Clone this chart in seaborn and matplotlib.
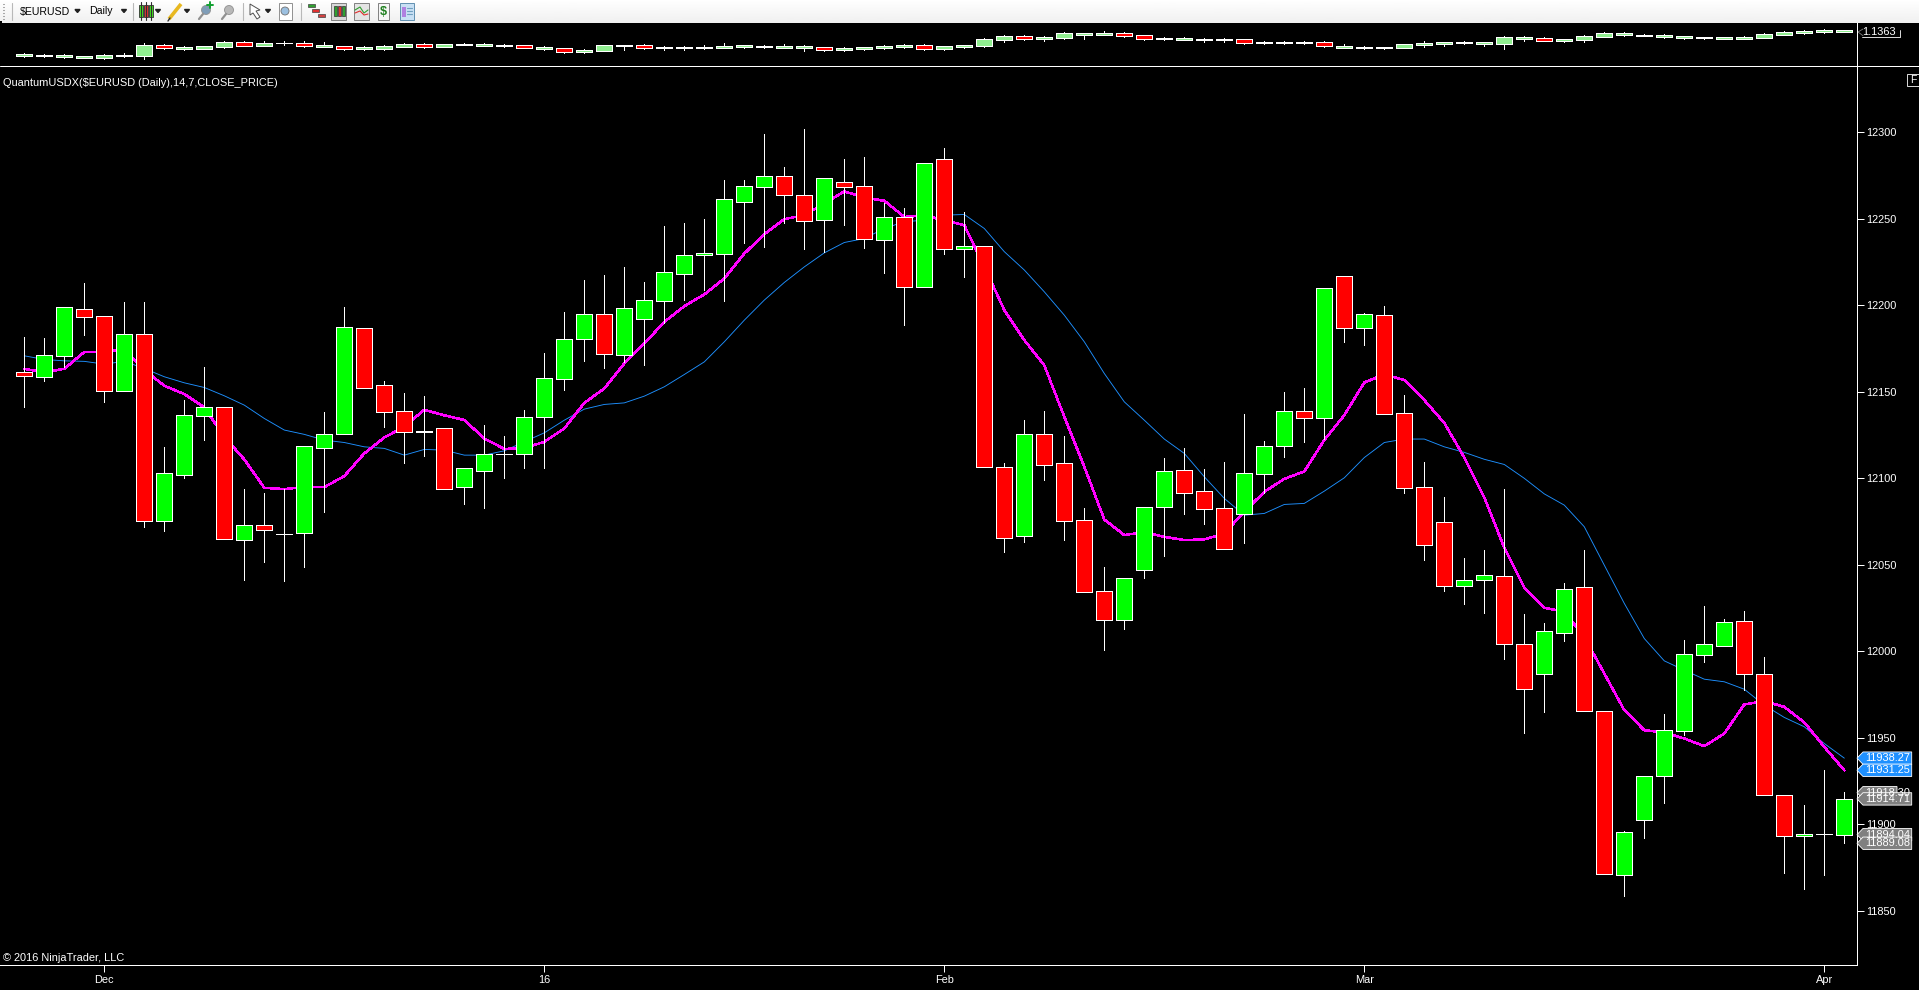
import numpy as np
import pandas as pd
import matplotlib
matplotlib.use("Agg")
import matplotlib.pyplot as plt
from matplotlib.lines import Line2D
from matplotlib.patches import Rectangle, Circle, Polygon
import seaborn as sns

# main panel, daily candles
opens = [12161.2, 12158.7, 12170.8, 12197.6, 12193.6, 12150.6, 12183.2, 12075.5, 12102.0, 12136.2,
         12141.0, 12064.5, 12072.8, 12068.1, 12068.5, 12117.7, 12125.8, 12186.6, 12153.7, 12138.7,
         12127.6, 12128.8, 12095.1, 12104.4, 12113.8, 12114.0, 12135.5, 12157.5, 12180.6, 12194.7,
         12171.4, 12192.2, 12202.6, 12218.2, 12228.8, 12229.8, 12259.8, 12268.5, 12274.5, 12263.5,
         12249.4, 12271.0, 12268.7, 12237.8, 12250.8, 12210.7, 12284.3, 12232.7, 12234.0, 12106.3,
         12066.8, 12125.4, 12108.6, 12075.7, 12034.6, 12018.4, 12047.1, 12083.6, 12104.6, 12092.4,
         12082.6, 12079.5, 12102.6, 12118.8, 12138.7, 12135.0, 12216.7, 12187.0, 12194.2, 12137.5,
         12094.7, 12074.5, 12037.5, 12041.0, 12043.7, 12004.0, 11987.0, 12010.7, 12036.9, 11965.8,
         11870.8, 11902.6, 11928.0, 11954.1, 11998.0, 12003.2, 12017.8, 11987.0, 11917.1, 11893.4,
         11894.7, 11894.1]
highs = [12181.6, 12181.0, 12198.8, 12212.8, 12193.6, 12201.9, 12201.9, 12118.0, 12145.2, 12164.3,
         12141.0, 12093.8, 12091.5, 12093.8, 12118.4, 12138.3, 12199.0, 12186.6, 12156.2, 12149.3,
         12147.5, 12128.8, 12105.7, 12130.7, 12124.4, 12139.4, 12172.3, 12196.0, 12214.5, 12217.4,
         12222.0, 12213.4, 12245.7, 12247.5, 12249.8, 12272.3, 12272.3, 12298.9, 12279.9, 12301.8,
         12273.3, 12284.5, 12285.6, 12258.9, 12256.2, 12282.0, 12290.8, 12254.0, 12234.0, 12108.6,
         12133.7, 12138.9, 12124.4, 12082.8, 12048.7, 12042.1, 12083.7, 12111.7, 12117.5, 12105.3,
         12109.4, 12137.1, 12121.5, 12149.8, 12152.2, 12209.8, 12216.7, 12195.5, 12199.6, 12148.1,
         12109.4, 12089.0, 12053.9, 12058.5, 12094.0, 12021.5, 12016.3, 12039.4, 12058.5, 11965.8,
         11896.0, 11928.2, 11963.7, 12006.5, 12026.1, 12018.6, 12023.2, 11996.6, 11917.1, 11911.1,
         11931.3, 11918.6]
lows = [12141.4, 12156.4, 12164.1, 12182.8, 12144.0, 12150.6, 12072.0, 12069.5, 12100.1, 12122.1,
        12065.0, 12041.2, 12051.6, 12040.8, 12048.7, 12080.5, 12125.8, 12152.3, 12129.6, 12108.8,
        12112.9, 12093.6, 12085.1, 12083.0, 12100.0, 12106.0, 12105.9, 12150.9, 12167.7, 12163.7,
        12167.1, 12165.4, 12189.5, 12203.0, 12208.8, 12202.4, 12235.9, 12233.6, 12247.5, 12232.5,
        12230.7, 12246.3, 12233.0, 12218.6, 12188.5, 12210.7, 12229.6, 12216.5, 12106.7, 12057.4,
        12063.1, 12099.0, 12064.3, 12034.4, 12000.9, 12013.0, 12042.5, 12055.0, 12079.3, 12073.5,
        12059.3, 12062.6, 12091.3, 12112.3, 12120.9, 12122.7, 12178.7, 12177.0, 12136.9, 12091.5,
        12052.7, 12035.0, 12027.3, 12022.1, 11995.5, 11952.7, 11964.9, 12005.9, 11965.6, 11871.4,
        11858.5, 11892.0, 11912.3, 11951.8, 11993.8, 12003.2, 11977.6, 11917.1, 11872.0, 11862.7,
        11870.8, 11889.3]
closes = [12159.3, 12171.0, 12198.8, 12193.4, 12150.6, 12183.2, 12075.5, 12102.8, 12136.4, 12141.0,
          12065.0, 12072.8, 12070.3, 12068.1, 12118.4, 12125.9, 12187.2, 12152.3, 12138.5, 12126.9,
          12127.0, 12093.6, 12105.7, 12113.8, 12113.8, 12135.2, 12157.7, 12180.8, 12194.7, 12172.0,
          12198.7, 12202.8, 12219.0, 12228.8, 12230.0, 12261.7, 12268.7, 12274.5, 12263.9, 12248.8,
          12273.3, 12268.5, 12238.6, 12250.8, 12210.7, 12282.0, 12232.6, 12234.2, 12106.7, 12065.6,
          12125.4, 12107.8, 12075.5, 12034.4, 12017.9, 12042.1, 12083.7, 12104.0, 12091.7, 12082.4,
          12059.3, 12102.8, 12118.4, 12138.7, 12135.0, 12209.8, 12187.0, 12194.7, 12136.9, 12094.5,
          12061.2, 12037.5, 12041.0, 12043.9, 12004.0, 11978.0, 12011.5, 12035.8, 11965.6, 11871.4,
          11895.3, 11928.2, 11954.3, 11998.2, 12004.0, 12016.7, 11987.0, 11917.1, 11893.4, 11894.7,
          11894.7, 11914.9]

ma_fast = [12163.3, 12161.2, 12163.3, 12173.0, 12173.0, 12174.5, 12162.6, 12153.5, 12148.7, 12141.0,
           12124.0, 12110.9, 12094.5, 12093.8, 12094.9, 12094.9, 12101.3, 12114.4, 12123.6, 12129.8,
           12139.6, 12136.4, 12133.7, 12123.0, 12117.0, 12117.4, 12121.1, 12128.8, 12143.6, 12151.9,
           12166.4, 12177.9, 12190.4, 12199.5, 12206.3, 12215.5, 12229.9, 12241.1, 12249.8, 12252.1,
           12258.8, 12265.8, 12262.3, 12260.4, 12251.1, 12251.9, 12249.2, 12246.3, 12222.3, 12197.2,
           12179.9, 12165.3, 12135.6, 12106.7, 12076.2, 12067.2, 12068.9, 12066.2, 12064.3, 12064.7,
           12068.1, 12080.7, 12092.2, 12099.7, 12104.0, 12122.1, 12136.5, 12155.4, 12160.0, 12156.8,
           12145.2, 12132.0, 12112.0, 12089.0, 12059.8, 12036.9, 12025.2, 12022.9, 12008.4, 11987.2,
           11966.0, 11954.4, 11953.1, 11949.6, 11945.2, 11952.5, 11969.3, 11971.2, 11967.9, 11958.9,
           11944.8, 11931.25]
ma_slow = [12170.8, 12168.7, 12167.9, 12167.6, 12166.0, 12167.6, 12163.5, 12158.7, 12155.2, 12152.5,
           12147.7, 12142.3, 12134.6, 12127.9, 12125.4, 12122.1, 12120.7, 12118.2, 12117.3, 12113.4,
           12116.7, 12116.3, 12113.4, 12113.4, 12115.9, 12121.1, 12126.3, 12133.6, 12140.0, 12142.7,
           12143.6, 12147.5, 12152.9, 12160.0, 12167.3, 12178.9, 12191.4, 12203.0, 12213.2, 12222.2,
           12230.3, 12236.3, 12238.6, 12244.4, 12248.3, 12249.2, 12252.1, 12252.5, 12244.4, 12231.0,
           12220.4, 12207.8, 12194.3, 12178.9, 12160.6, 12144.2, 12133.6, 12122.7, 12114.4, 12100.9,
           12088.4, 12078.7, 12079.7, 12084.9, 12085.5, 12092.6, 12100.3, 12112.0, 12120.7, 12122.7,
           12122.7, 12118.2, 12115.0, 12111.0, 12108.0, 12100.0, 12091.0, 12084.5, 12072.0, 12049.8,
           12027.7, 12007.4, 11994.5, 11989.1, 11983.9, 11982.4, 11978.1, 11968.9, 11961.8, 11956.4,
           11946.7, 11938.27]

price_ticks = list(range(11850, 12301, 50))
date_ticks = [4, 26, 46, 67, 90]
date_labels = ["Dec", "16", "Feb", "Mar", "Apr"]

# last value tags, back to front
blue_tags = [11938.27, 11931.25]
grey_tags = [11918.30, 11914.71, 11894.04, 11889.08]

# upper overview panel, no scale shown so these are heights in the panel
top_high = [37, 33, 34, 27, 34, 35, 66, 64, 58, 58, 73, 71, 71, 73, 71, 68, 58, 56, 60, 67,
            65, 64, 66, 67, 63, 60, 58, 52, 48, 60, 60, 63, 57, 57, 60, 66, 60, 60, 63, 60,
            54, 54, 54, 60, 63, 63, 57, 60, 81, 90, 90, 87, 99, 96, 102, 99, 90, 84, 84, 81,
            81, 78, 72, 72, 72, 72, 63, 57, 54, 63, 72, 69, 72, 69, 87, 87, 84, 78, 90, 99,
            99, 93, 93, 87, 84, 84, 87, 96, 102, 105, 108, 105]
top_body_hi = [34, 30, 30, 27, 30, 30, 60, 60, 54, 57, 69, 69, 67, 67, 66, 60, 57, 54, 57, 64,
               63, 63, 63, 64, 60, 60, 54, 51, 45, 60, 60, 60, 54, 54, 54, 57, 60, 57, 57, 57,
               54, 51, 54, 57, 60, 60, 57, 60, 78, 87, 87, 84, 96, 96, 96, 96, 90, 81, 81, 78,
               78, 78, 69, 69, 69, 69, 57, 54, 54, 63, 66, 69, 69, 69, 84, 84, 81, 78, 87, 96,
               96, 90, 90, 87, 84, 84, 84, 93, 99, 102, 105, 105]
top_body_lo = [28, 28, 25, 22, 22, 27, 28, 52, 48, 49, 55, 58, 58, 65, 58, 55, 49, 48, 49, 55,
               55, 55, 61, 58, 58, 51, 48, 40, 40, 43, 58, 51, 51, 51, 51, 51, 54, 54, 51, 51,
               45, 45, 48, 51, 54, 48, 48, 54, 57, 75, 78, 78, 81, 90, 90, 87, 78, 78, 75, 75,
               75, 66, 66, 66, 66, 57, 51, 51, 51, 51, 60, 63, 66, 63, 63, 78, 72, 72, 75, 84,
               90, 87, 84, 81, 81, 78, 78, 81, 90, 96, 99, 99]
top_low = [23, 25, 22, 22, 19, 23, 19, 48, 45, 49, 52, 56, 56, 59, 55, 54, 46, 46, 46, 54,
           51, 54, 60, 56, 55, 51, 44, 37, 37, 42, 46, 48, 45, 45, 48, 51, 51, 51, 51, 42,
           42, 42, 45, 48, 51, 45, 45, 51, 54, 69, 75, 72, 78, 78, 90, 84, 75, 75, 75, 69,
           69, 63, 63, 63, 63, 54, 51, 48, 48, 51, 54, 57, 63, 57, 48, 72, 72, 69, 69, 84,
           87, 87, 81, 78, 78, 78, 78, 81, 90, 93, 96, 99]
top_red = [7, 11, 14, 16, 20, 25, 27, 31, 40, 45, 50, 55, 56, 61, 65, 76]
top_label = "1.1363"
top_label_level = 99


W, H = 1919, 990
PANEL_RIGHT = 1857
SEP_Y = 65.5
BOTTOM_Y = 964.5
TOOL_H = 23
WHITE = "#FFFFFF"
FONT = 7.95

sns.set_theme(style="dark", rc={"axes.facecolor": "black", "figure.facecolor": "black",
                                "axes.grid": False, "text.color": WHITE,
                                "xtick.color": WHITE, "ytick.color": WHITE,
                                "xtick.bottom": True, "ytick.right": True})
plt.rcParams["font.family"] = ["Liberation Sans", "DejaVu Sans"]

fig = plt.figure(figsize=(W / 100, H / 100), dpi=100, facecolor="black")


def box(left, top, right, bottom):
    return [left / W, 1 - bottom / H, (right - left) / W, (bottom - top) / H]


ax = fig.add_axes(box(0, SEP_Y, PANEL_RIGHT, BOTTOM_Y))
ax_top = fig.add_axes(box(0, TOOL_H, PANEL_RIGHT, SEP_Y))
ax_tool = fig.add_axes(box(0, 0, W, TOOL_H))
ax_over = fig.add_axes([0, 0, 1, 1])
ax_over.set_axis_off()
ax_over.patch.set_alpha(0)
ax_over.set_xlim(0, W)
ax_over.set_ylim(H, 0)

bars = np.arange(len(closes))
o = np.array(opens)
c = np.array(closes)
df = pd.DataFrame({"bar": bars, "ma_fast": ma_fast, "ma_slow": ma_slow})

sns.lineplot(data=df, x="bar", y="ma_slow", color="#1E90FF", linewidth=0.65, ax=ax, zorder=2)
sns.lineplot(data=df, x="bar", y="ma_fast", color="#FF00FF", linewidth=1.1, ax=ax, zorder=2.5,
             antialiased=False)

ax.vlines(bars, lows, highs, color=WHITE, linewidth=0.5, zorder=3, antialiased=False)
body_colors = np.where(c > o, "#00FF00", np.where(c < o, "#FF0000", WHITE))
ax.bar(bars, np.abs(c - o), bottom=np.minimum(o, c), width=0.8, color=body_colors,
       edgecolor=WHITE, linewidth=0.5, zorder=4, antialiased=False)

ax.set_xlim(-1.215, 91.635)
ax.set_ylim(11819.0, 12338.6)
ax.set_xlabel("")
ax.set_ylabel("")
ax.yaxis.tick_right()
ax.set_yticks(price_ticks)
ax.set_xticks(date_ticks)
ax.set_xticklabels(date_labels)
ax.tick_params(axis="y", length=5, width=0.72, pad=1.5, labelsize=FONT, colors=WHITE)
ax.tick_params(axis="x", length=5, width=0.72, pad=2.5, labelsize=FONT, colors=WHITE)
for name in ["left", "top"]:
    ax.spines[name].set_visible(False)
for name in ["right", "bottom"]:
    ax.spines[name].set_color(WHITE)
    ax.spines[name].set_linewidth(0.72)

# value tags on the right of the axis
price_tr = ax.get_yaxis_transform()


def add_tag(value, text, face, right=1911.7):
    half = 6.2 / 1.73
    x0 = 1.0
    x1 = 1863 / PANEL_RIGHT
    x2 = right / PANEL_RIGHT
    pts = [(x0, value), (x1, value + half), (x2, value + half), (x2, value - half), (x1, value - half)]
    ax.add_patch(Polygon(pts, closed=True, transform=price_tr, facecolor=face, edgecolor=WHITE,
                         linewidth=0.6, clip_on=False, zorder=6))
    ax.text(1888 / PANEL_RIGHT, value, text, transform=price_tr, ha="center", va="center",
            fontsize=FONT, color=WHITE, clip_on=False, zorder=7)


for v in blue_tags:
    add_tag(v, f"{v:.2f}", "#1E90FF")
add_tag(grey_tags[0], f"{grey_tags[0]:.2f}", "#808080", right=1897)
for v in grey_tags[1:]:
    add_tag(v, f"{v:.2f}", "#808080")

# overview panel
t_hi = np.array(top_body_hi, dtype=float)
t_lo = np.array(top_body_lo, dtype=float)
top_x = np.arange(len(top_high))
t_colors = np.full(len(top_x), "#90EE90", dtype=object)
t_colors[top_red] = "#FF0000"
ax_top.vlines(top_x, top_low, top_high, color=WHITE, linewidth=0.5, zorder=2, antialiased=False)
ax_top.bar(top_x, t_hi - t_lo, bottom=t_lo, width=0.8, color=list(t_colors), edgecolor=WHITE,
           linewidth=0.5, zorder=3, antialiased=False)
ax_top.set_xlim(-1.215, 91.635)
ax_top.set_ylim(-1.5, 126)
ax_top.set_xticks([])
ax_top.set_yticks([])
for name in ["left", "top", "bottom"]:
    ax_top.spines[name].set_visible(False)
ax_top.spines["right"].set_color(WHITE)
ax_top.spines["right"].set_linewidth(0.72)
ax_top.text(1879 / PANEL_RIGHT, top_label_level, top_label, transform=ax_top.get_yaxis_transform(),
            ha="center", va="center", fontsize=FONT, color=WHITE, clip_on=False)
lbl_tr = ax_top.get_yaxis_transform()
ax_top.plot([1900.4 / PANEL_RIGHT, 1900.4 / PANEL_RIGHT, 1862 / PANEL_RIGHT],
            [106, 85, 85], transform=lbl_tr, color=WHITE, linewidth=0.6, clip_on=False)
ax_top.plot([1863 / PANEL_RIGHT, 1858 / PANEL_RIGHT, 1863 / PANEL_RIGHT],
            [108, 99, 88], transform=lbl_tr, color="#808080", linewidth=0.6, clip_on=False)

# separator, corner button and captions
ax_over.add_line(Line2D([0, W], [SEP_Y, SEP_Y], color=WHITE, linewidth=0.72))
ax_over.add_patch(Rectangle((1907, 73.5), 12, 12, facecolor="black", edgecolor=WHITE, linewidth=0.6))
ax_over.text(1913, 79.8, "F", ha="center", va="center", fontsize=7.5, color=WHITE)
ax_over.text(3, 83, "QuantumUSDX($EURUSD (Daily),14,7,CLOSE_PRICE)", ha="left", va="center",
             fontsize=FONT, color=WHITE)
ax_over.text(3, 958, "© 2016 NinjaTrader, LLC", ha="left", va="center", fontsize=FONT, color=WHITE)

# toolbar
ax_tool.set_xlim(0, W)
ax_tool.set_ylim(TOOL_H, 0)
ax_tool.set_axis_off()
ax_tool.imshow(np.linspace(1.0, 0.94, 24).reshape(-1, 1), cmap="gray", vmin=0, vmax=1,
               extent=[0, W, TOOL_H, 0], aspect="auto", zorder=0)
ax_tool.add_patch(Rectangle((0, 21), 2, 3, facecolor="black", edgecolor="none", zorder=1))
ax_tool.text(20, 11.5, "$EURUSD", ha="left", va="center", fontsize=7.6, color="black")
ax_tool.text(89, 11.5, "Daily", ha="left", va="center", fontsize=7.6, color="black")
for sx in [12, 133, 243, 301]:
    ax_tool.plot([sx, sx], [3, 20], color="#B8B8B8", linewidth=0.8)
for gy in [4, 7, 10, 13, 16, 19]:
    ax_tool.plot([3, 4], [gy, gy], color="#A0A0A0", linewidth=0.8)
for ax_x in [77.5, 124, 158, 187, 268]:
    ax_tool.add_patch(Polygon([(ax_x - 2.5, 9.5), (ax_x + 2.5, 9.5), (ax_x, 12.5)], color="#202020"))
for cx, col in [(141, "#44DD22"), (146, "#E03030"), (151, "#44DD22")]:
    ax_tool.plot([cx, cx], [2, 20], color="#303030", linewidth=0.8)
    ax_tool.add_patch(Rectangle((cx - 2, 5), 4, 12, facecolor=col, edgecolor="#303030", linewidth=0.6))
ax_tool.plot([169, 181], [19, 4], color="#E8B820", linewidth=2.6, solid_capstyle="butt")
ax_tool.plot([168, 170], [21, 18], color="#303030", linewidth=1.0)
for mx, col in [(204, "#7F9DB8"), (227, "#B8B8B8")]:
    ax_tool.add_patch(Circle((mx + 2, 10), 4.5, facecolor=col, edgecolor="#909090", linewidth=0.6))
    ax_tool.plot([mx - 5, mx - 1], [19, 14], color="#909090", linewidth=1.6)
ax_tool.plot([207, 213], [5, 5], color="#10A030", linewidth=1.4)
ax_tool.plot([210, 210], [2, 8], color="#10A030", linewidth=1.4)
ax_tool.add_patch(Polygon([(250, 4), (250, 15), (253, 13), (257, 19), (260, 17), (256, 11), (260, 10)],
                          facecolor=WHITE, edgecolor="#505050", linewidth=0.7))
ax_tool.add_patch(Rectangle((279, 3), 13, 17, facecolor=WHITE, edgecolor="#909090", linewidth=0.7))
ax_tool.add_patch(Circle((285, 11), 4, facecolor="#9CC0E0", edgecolor="#707070", linewidth=0.6))
for rx, ry, col in [(308, 4, "#30A030"), (312, 9, "#E03030"), (318, 14, "#D04040")]:
    ax_tool.add_patch(Rectangle((rx, ry), 7, 3, facecolor=col, edgecolor="#404040", linewidth=0.5))
ax_tool.add_patch(Rectangle((331, 3), 15, 17, facecolor="#D8D8D8", edgecolor="#808080", linewidth=0.7))
for cx, col in [(335, "#30A030"), (339, "#E03030"), (343, "#30A030")]:
    ax_tool.add_patch(Rectangle((cx - 1.5, 6), 3, 10, facecolor=col, edgecolor="#303030", linewidth=0.5))
ax_tool.add_patch(Rectangle((354, 3), 15, 17, facecolor="#E4E4E4", edgecolor="#808080", linewidth=0.7))
ax_tool.plot([355, 360, 364, 368], [10, 7, 13, 10], color="#30A030", linewidth=0.8)
ax_tool.plot([355, 360, 364, 368], [13, 11, 15, 14], color="#E03030", linewidth=0.8)
ax_tool.add_patch(Rectangle((378, 3), 11, 17, facecolor="#F6F6F6", edgecolor="#808080", linewidth=0.7))
ax_tool.text(383.5, 12, "$", ha="center", va="center", fontsize=9, color="#208020", fontweight="bold")
ax_tool.add_patch(Rectangle((400, 3), 14, 17, facecolor="#C8E0F4", edgecolor="#6090B0", linewidth=0.7))
ax_tool.add_patch(Rectangle((402, 7), 4, 10, facecolor="#B080E0", edgecolor="none"))
for ly in [8, 11, 14]:
    ax_tool.plot([407, 412], [ly, ly], color="#70A0C0", linewidth=0.8)
ax_tool.set_xlim(0, W)
ax_tool.set_ylim(TOOL_H, 0)

fig.savefig("out.png", dpi=100, facecolor="black")
